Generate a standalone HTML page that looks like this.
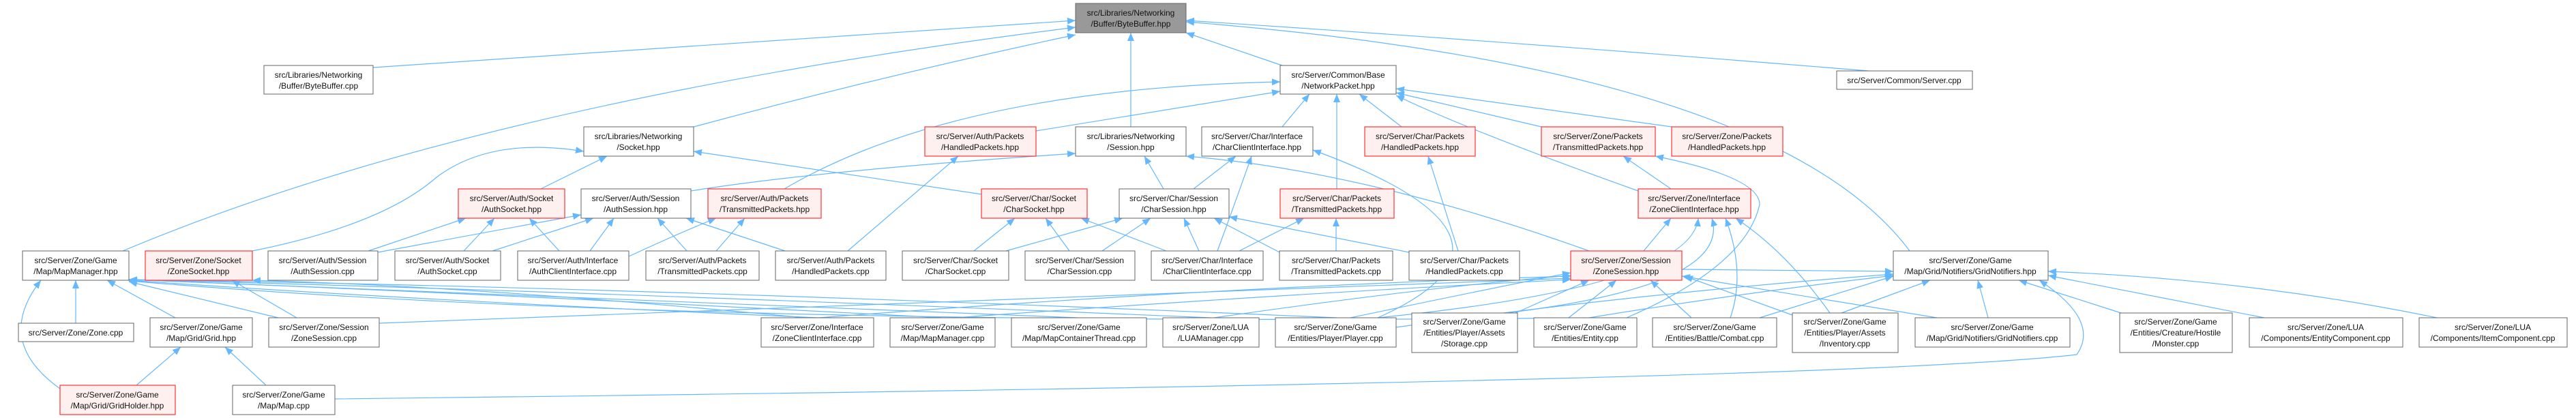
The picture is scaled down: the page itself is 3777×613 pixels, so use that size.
<!DOCTYPE html>
<html><head><meta charset="utf-8"><style>
html,body{margin:0;padding:0;background:#fff;}
svg{display:block;}
text{font-family:"Liberation Sans",sans-serif;font-size:12px;fill:#111;text-anchor:middle;}
.n{fill:#fff;stroke:#666;stroke-width:1;}
.r{fill:#fff0f0;stroke:#f33;stroke-width:1.2;}
.g{fill:#999;stroke:#666;stroke-width:1;}
.e{fill:none;stroke:#63b8ff;stroke-width:1.2;marker-end:url(#a);}
</style></head><body>
<svg width="3777" height="613" viewBox="0 0 3777 613" xmlns="http://www.w3.org/2000/svg">
<defs><marker id="a" markerUnits="userSpaceOnUse" markerWidth="12" markerHeight="10" refX="12" refY="5" orient="auto"><path d="M0,0 L12,5 L0,10 z" fill="#63b8ff"/></marker></defs>
<g>
<path class="e" d="M547,99 L1577,30"/>
<path class="e" d="M180,368 Q700,150 1577,40"/>
<path class="e" d="M1017,186 Q1300,110 1577,51"/>
<path class="e" d="M1658,186 L1658,48"/>
<path class="e" d="M1880,96 L1739,48"/>
<path class="e" d="M2740,104 Q2200,60 1739,30"/>
<path class="e" d="M2800,368 Q2600,100 1739,32"/>
<path class="e" d="M1519,192 L1877,134"/>
<path class="e" d="M1150,277 Q1400,130 1877,120"/>
<path class="e" d="M1880,186 L1920,138"/>
<path class="e" d="M1960,277 L1960,138"/>
<path class="e" d="M2055,186 L1993,138"/>
<path class="e" d="M2260,186 L2047,136"/>
<path class="e" d="M2451,186 L2047,130"/>
<path class="e" d="M2402,280 Q2150,190 2047,140"/>
<path class="e" d="M793,277 L890,229"/>
<path class="e" d="M370,368 Q560,330 640,260 Q720,200 856,222"/>
<path class="e" d="M1440,285 L1017,222"/>
<path class="e" d="M1013,280 Q1200,250 1577,225"/>
<path class="e" d="M1706,277 L1678,229"/>
<path class="e" d="M2330,368 Q2000,250 1739,229"/>
<path class="e" d="M1750,277 L1812,229"/>
<path class="e" d="M1785,368 Q1810,300 1835,229"/>
<path class="e" d="M2020,466 Q2280,350 1925,220"/>
<path class="e" d="M1243,368 L1405,229"/>
<path class="e" d="M540,368 L683,320"/>
<path class="e" d="M680,368 L725,320"/>
<path class="e" d="M820,368 L776,320"/>
<path class="e" d="M554,370 L852,315"/>
<path class="e" d="M722,368 L870,320"/>
<path class="e" d="M865,368 L900,320"/>
<path class="e" d="M1007,368 L964,320"/>
<path class="e" d="M1151,368 L1006,320"/>
<path class="e" d="M922,376 Q1000,340 1050,320"/>
<path class="e" d="M1050,368 L1092,320"/>
<path class="e" d="M1428,368 L1488,320"/>
<path class="e" d="M1568,368 L1533,320"/>
<path class="e" d="M1710,368 L1585,320"/>
<path class="e" d="M1475,368 L1646,320"/>
<path class="e" d="M1616,368 L1687,320"/>
<path class="e" d="M1758,368 L1736,320"/>
<path class="e" d="M1880,372 L1780,320"/>
<path class="e" d="M2066,370 L1802,318"/>
<path class="e" d="M1817,368 L1912,320"/>
<path class="e" d="M1959,368 L1959,320"/>
<path class="e" d="M2138,368 L2094,229"/>
<path class="e" d="M2450,277 L2380,229"/>
<path class="e" d="M2385,466 Q2560,390 2580,300 Q2580,260 2427,229"/>
<path class="e" d="M2410,368 L2450,320"/>
<path class="e" d="M2020,466 Q2480,420 2490,320"/>
<path class="e" d="M2200,460 Q2540,420 2510,320"/>
<path class="e" d="M2537,466 Q2560,400 2530,320"/>
<path class="e" d="M2683,459 Q2620,370 2545,320"/>
<path class="e" d="M556,474 Q1500,440 2303,408"/>
<path class="e" d="M1200,466 Q1800,420 2303,405"/>
<path class="e" d="M1980,466 Q2200,420 2303,400"/>
<path class="e" d="M2222,459 L2330,411"/>
<path class="e" d="M2300,466 L2370,411"/>
<path class="e" d="M2480,466 L2420,411"/>
<path class="e" d="M2628,462 L2470,405"/>
<path class="e" d="M2840,466 L2466,405"/>
<path class="e" d="M1400,466 Q1900,430 2303,410"/>
<path class="e" d="M1780,466 Q2100,420 2303,404"/>
<path class="e" d="M111,474 L111,411"/>
<path class="e" d="M257,466 L157,411"/>
<path class="e" d="M88,570 Q-10,500 60,411"/>
<path class="e" d="M408,466 L189,413"/>
<path class="e" d="M1200,466 Q600,440 189,411"/>
<path class="e" d="M1382,466 Q700,430 189,410"/>
<path class="e" d="M1580,466 Q700,430 189,410"/>
<path class="e" d="M1775,466 Q800,425 189,410"/>
<path class="e" d="M1960,466 Q900,420 189,410"/>
<path class="e" d="M2325,466 Q1000,480 189,412"/>
<path class="e" d="M435,466 L340,411"/>
<path class="e" d="M1180,466 Q700,420 370,411"/>
<path class="e" d="M200,565 L265,509"/>
<path class="e" d="M390,565 L330,509"/>
<path class="e" d="M2466,395 L2776,398"/>
<path class="e" d="M2047,480 Q2400,430 2776,402"/>
<path class="e" d="M2330,466 Q2550,430 2776,404"/>
<path class="e" d="M2580,466 L2776,405"/>
<path class="e" d="M2700,459 L2830,411"/>
<path class="e" d="M2915,466 L2900,411"/>
<path class="e" d="M3110,459 L2960,411"/>
<path class="e" d="M3320,466 L3003,404"/>
<path class="e" d="M3573,466 Q3300,410 3003,398"/>
<path class="e" d="M491,585 Q2700,560 3045,520 Q3080,470 2990,411"/>
</g>
<g>
<rect class="g" x="1577" y="5" width="162" height="43"/><text x="1658" y="23">src/Libraries/Networking</text><text x="1658" y="39">/Buffer/ByteBuffer.hpp</text>
<rect class="n" x="387" y="96" width="160" height="42"/><text x="467" y="114">src/Libraries/Networking</text><text x="467" y="130">/Buffer/ByteBuffer.cpp</text>
<rect class="n" x="1877" y="96" width="170" height="42"/><text x="1962" y="114">src/Server/Common/Base</text><text x="1962" y="130">/NetworkPacket.hpp</text>
<rect class="n" x="2693" y="104" width="199" height="27"/><text x="2792" y="122">src/Server/Common/Server.cpp</text>
<rect class="n" x="856" y="186" width="161" height="43"/><text x="936" y="204">src/Libraries/Networking</text><text x="936" y="220">/Socket.hpp</text>
<rect class="r" x="1356" y="186" width="163" height="43"/><text x="1437" y="204">src/Server/Auth/Packets</text><text x="1437" y="220">/HandledPackets.hpp</text>
<rect class="n" x="1577" y="186" width="162" height="43"/><text x="1658" y="204">src/Libraries/Networking</text><text x="1658" y="220">/Session.hpp</text>
<rect class="n" x="1762" y="186" width="163" height="43"/><text x="1843" y="204">src/Server/Char/Interface</text><text x="1843" y="220">/CharClientInterface.hpp</text>
<rect class="r" x="2001" y="186" width="162" height="43"/><text x="2082" y="204">src/Server/Char/Packets</text><text x="2082" y="220">/HandledPackets.hpp</text>
<rect class="r" x="2260" y="186" width="167" height="43"/><text x="2343" y="204">src/Server/Zone/Packets</text><text x="2343" y="220">/TransmittedPackets.hpp</text>
<rect class="r" x="2451" y="186" width="163" height="43"/><text x="2532" y="204">src/Server/Zone/Packets</text><text x="2532" y="220">/HandledPackets.hpp</text>
<rect class="r" x="672" y="277" width="156" height="43"/><text x="750" y="295">src/Server/Auth/Socket</text><text x="750" y="311">/AuthSocket.hpp</text>
<rect class="n" x="852" y="277" width="161" height="43"/><text x="932" y="295">src/Server/Auth/Session</text><text x="932" y="311">/AuthSession.hpp</text>
<rect class="r" x="1038" y="277" width="166" height="43"/><text x="1121" y="295">src/Server/Auth/Packets</text><text x="1121" y="311">/TransmittedPackets.hpp</text>
<rect class="r" x="1439" y="277" width="155" height="43"/><text x="1516" y="295">src/Server/Char/Socket</text><text x="1516" y="311">/CharSocket.hpp</text>
<rect class="n" x="1641" y="277" width="161" height="43"/><text x="1721" y="295">src/Server/Char/Session</text><text x="1721" y="311">/CharSession.hpp</text>
<rect class="r" x="1877" y="277" width="167" height="43"/><text x="1960" y="295">src/Server/Char/Packets</text><text x="1960" y="311">/TransmittedPackets.hpp</text>
<rect class="r" x="2402" y="277" width="165" height="43"/><text x="2484" y="295">src/Server/Zone/Interface</text><text x="2484" y="311">/ZoneClientInterface.hpp</text>
<rect class="n" x="33" y="368" width="156" height="43"/><text x="111" y="386">src/Server/Zone/Game</text><text x="111" y="402">/Map/MapManager.hpp</text>
<rect class="r" x="213" y="368" width="157" height="43"/><text x="291" y="386">src/Server/Zone/Socket</text><text x="291" y="402">/ZoneSocket.hpp</text>
<rect class="n" x="393" y="368" width="161" height="43"/><text x="473" y="386">src/Server/Auth/Session</text><text x="473" y="402">/AuthSession.cpp</text>
<rect class="n" x="579" y="368" width="155" height="43"/><text x="656" y="386">src/Server/Auth/Socket</text><text x="656" y="402">/AuthSocket.cpp</text>
<rect class="n" x="759" y="368" width="163" height="43"/><text x="840" y="386">src/Server/Auth/Interface</text><text x="840" y="402">/AuthClientInterface.cpp</text>
<rect class="n" x="947" y="368" width="166" height="43"/><text x="1030" y="386">src/Server/Auth/Packets</text><text x="1030" y="402">/TransmittedPackets.cpp</text>
<rect class="n" x="1137" y="368" width="162" height="43"/><text x="1218" y="386">src/Server/Auth/Packets</text><text x="1218" y="402">/HandledPackets.cpp</text>
<rect class="n" x="1323" y="368" width="156" height="43"/><text x="1401" y="386">src/Server/Char/Socket</text><text x="1401" y="402">/CharSocket.cpp</text>
<rect class="n" x="1503" y="368" width="161" height="43"/><text x="1583" y="386">src/Server/Char/Session</text><text x="1583" y="402">/CharSession.cpp</text>
<rect class="n" x="1688" y="368" width="164" height="43"/><text x="1770" y="386">src/Server/Char/Interface</text><text x="1770" y="402">/CharClientInterface.cpp</text>
<rect class="n" x="1876" y="368" width="166" height="43"/><text x="1959" y="386">src/Server/Char/Packets</text><text x="1959" y="402">/TransmittedPackets.cpp</text>
<rect class="n" x="2066" y="368" width="162" height="43"/><text x="2147" y="386">src/Server/Char/Packets</text><text x="2147" y="402">/HandledPackets.cpp</text>
<rect class="r" x="2303" y="368" width="163" height="43"/><text x="2384" y="386">src/Server/Zone/Session</text><text x="2384" y="402">/ZoneSession.hpp</text>
<rect class="n" x="2776" y="368" width="227" height="43"/><text x="2889" y="386">src/Server/Zone/Game</text><text x="2889" y="402">/Map/Grid/Notifiers/GridNotifiers.hpp</text>
<rect class="n" x="27" y="474" width="169" height="27"/><text x="111" y="492">src/Server/Zone/Zone.cpp</text>
<rect class="n" x="220" y="466" width="150" height="43"/><text x="295" y="484">src/Server/Zone/Game</text><text x="295" y="500">/Map/Grid/Grid.hpp</text>
<rect class="n" x="394" y="466" width="162" height="43"/><text x="475" y="484">src/Server/Zone/Session</text><text x="475" y="500">/ZoneSession.cpp</text>
<rect class="n" x="1116" y="466" width="165" height="43"/><text x="1198" y="484">src/Server/Zone/Interface</text><text x="1198" y="500">/ZoneClientInterface.cpp</text>
<rect class="n" x="1305" y="466" width="154" height="43"/><text x="1382" y="484">src/Server/Zone/Game</text><text x="1382" y="500">/Map/MapManager.cpp</text>
<rect class="n" x="1483" y="466" width="198" height="43"/><text x="1582" y="484">src/Server/Zone/Game</text><text x="1582" y="500">/Map/MapContainerThread.cpp</text>
<rect class="n" x="1705" y="466" width="141" height="43"/><text x="1775" y="484">src/Server/Zone/LUA</text><text x="1775" y="500">/LUAManager.cpp</text>
<rect class="n" x="1870" y="466" width="177" height="43"/><text x="1958" y="484">src/Server/Zone/Game</text><text x="1958" y="500">/Entities/Player/Player.cpp</text>
<rect class="n" x="2070" y="459" width="155" height="58"/><text x="2147" y="476">src/Server/Zone/Game</text><text x="2147" y="492">/Entities/Player/Assets</text><text x="2147" y="508">/Storage.cpp</text>
<rect class="n" x="2249" y="466" width="151" height="43"/><text x="2324" y="484">src/Server/Zone/Game</text><text x="2324" y="500">/Entities/Entity.cpp</text>
<rect class="n" x="2423" y="466" width="182" height="43"/><text x="2514" y="484">src/Server/Zone/Game</text><text x="2514" y="500">/Entities/Battle/Combat.cpp</text>
<rect class="n" x="2628" y="459" width="155" height="58"/><text x="2705" y="476">src/Server/Zone/Game</text><text x="2705" y="492">/Entities/Player/Assets</text><text x="2705" y="508">/Inventory.cpp</text>
<rect class="n" x="2808" y="466" width="227" height="43"/><text x="2921" y="484">src/Server/Zone/Game</text><text x="2921" y="500">/Map/Grid/Notifiers/GridNotifiers.cpp</text>
<rect class="n" x="3108" y="459" width="165" height="58"/><text x="3190" y="476">src/Server/Zone/Game</text><text x="3190" y="492">/Entities/Creature/Hostile</text><text x="3190" y="508">/Monster.cpp</text>
<rect class="n" x="3298" y="466" width="225" height="43"/><text x="3410" y="484">src/Server/Zone/LUA</text><text x="3410" y="500">/Components/EntityComponent.cpp</text>
<rect class="n" x="3547" y="466" width="217" height="43"/><text x="3655" y="484">src/Server/Zone/LUA</text><text x="3655" y="500">/Components/ItemComponent.cpp</text>
<rect class="r" x="88" y="565" width="169" height="43"/><text x="172" y="583">src/Server/Zone/Game</text><text x="172" y="599">/Map/Grid/GridHolder.hpp</text>
<rect class="n" x="341" y="565" width="150" height="43"/><text x="416" y="583">src/Server/Zone/Game</text><text x="416" y="599">/Map/Map.cpp</text>
</g>
</svg>
</body></html>
